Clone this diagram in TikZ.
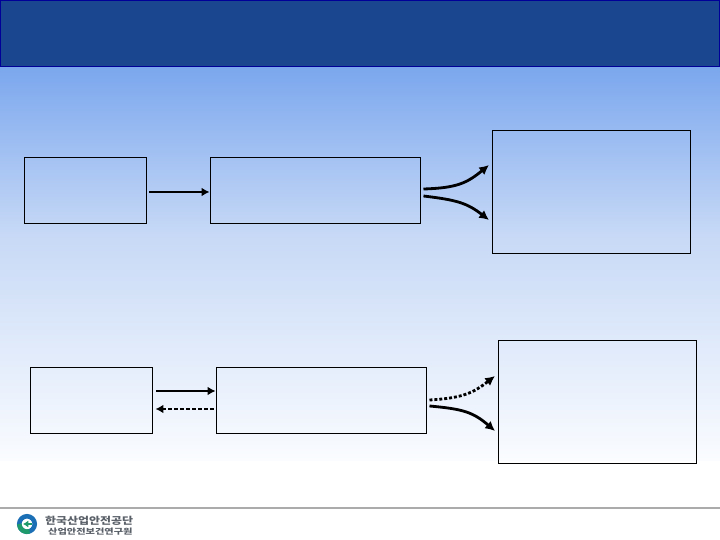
\documentclass[tikz,border=0pt]{standalone}
\usepackage{fontspec}
\newfontfamily\krfont{Noto Sans CJK KR}
\usetikzlibrary{arrows.meta, positioning, calc}
\definecolor{kheader}{HTML}{1A468F}
\definecolor{kheaderline}{HTML}{000099}
\definecolor{kskytop}{HTML}{7BA7EE}
\definecolor{kskymid}{HTML}{C7D9F6}
\definecolor{kskylow}{HTML}{FAFCFF}
\definecolor{kfoot}{HTML}{ABABAB}
\definecolor{kteal}{HTML}{1F9A6A}
\definecolor{klogoblue}{HTML}{1B6FB5}
\definecolor{klogotext}{HTML}{5A6068}
\tikzset{
  blankbox/.style={draw=black, line width=0.55pt, minimum width=#1*0.02cm, minimum height=66*0.02cm, inner sep=0pt},
  resultbox/.style={draw=black, line width=0.55pt, minimum width=198*0.02cm, minimum height=123*0.02cm, inner sep=0pt},
  flow/.style={-{Latex[length=4.5pt,width=5pt]}, line width=0.95pt, black},
  backflow/.style={flow, dash pattern=on 2pt off 1.4pt},
  curveflow/.style={-{Latex[length=5.5pt,width=5.5pt]}, line width=1.6pt, black},
  dotflow/.style={curveflow, dash pattern=on 1.7pt off 1.1pt},
}
\begin{document}
\begin{tikzpicture}[x=0.02cm, y=-0.02cm]
\useasboundingbox (0,0) rectangle (720,540);

%% Background
\fill[white] (0,0) rectangle (720,540);
\shade[top color=kskytop, bottom color=kskymid] (0,67) rectangle (720,235);
\shade[top color=kskymid, bottom color=kskylow] (0,234.5) rectangle (720,460);

%% Header band
\fill[kheader] (0,0) rectangle (720,67);
\draw[kheaderline, line width=0.6pt] (0.5,0.5) rectangle (719.5,66.5);

%% Upper row
\node[blankbox=122] (inputa) at (85,190) {};
\node[blankbox=210] (processa) at (315,190) {};
\node[resultbox] (resulta) at (591,191.5) {};
\coordinate (resultatop) at (489,165);
\coordinate (resultalow) at (489,220);

\draw[flow] ($(inputa.east)+(3,2)$) -- ($(processa.west)+(0,2)$);
\draw[curveflow] ($(processa.east)+(3,-1)$) .. controls (457,188) and (467,183) .. (resultatop);
\draw[curveflow] ($(processa.east)+(3,6)$) .. controls (457,200) and (467,203) .. (resultalow);

%% Lower row
\node[blankbox=122] (inputb) at (91,400) {};
\node[blankbox=210] (processb) at (321,400) {};
\node[resultbox] (resultb) at (597,401.5) {};
\coordinate (resultbtop) at (495,376);
\coordinate (resultblow) at (495,431);

\draw[flow] ($(inputb.east)+(4,-9)$) -- ($(processb.west)+(0,-9)$);
\draw[backflow] ($(processb.west)+(-2,9)$) -- ($(inputb.east)+(3,9)$);
\draw[dotflow] ($(processb.east)+(3,0)$) .. controls (463,398) and (473,393) .. (resultbtop);
\draw[curveflow] ($(processb.east)+(3,6)$) .. controls (463,409) and (473,412) .. (resultblow);

%% Footer
\draw[kfoot, line width=1.1pt] (0,508) -- (720,508);
\node[circle, draw=klogoblue, line width=2.6pt, minimum size=15.5*0.02cm, inner sep=0pt, outer sep=0pt] (logo) at (27,524) {};
\draw[kteal, line width=2.6pt] (logo.west) arc (180:70:7.75);
\draw[-{Latex[length=3pt,width=4pt]}, kteal, line width=1pt] (logo.center) ++(5,0) -- ++(-9,0);
\node[font=\krfont\bfseries, text=klogotext, xscale=0.68, yscale=0.56, anchor=west, inner sep=0pt] (logotop) at (45,520.5) {한국산업안전공단};
\node[font=\krfont\bfseries, text=klogotext, xscale=0.58, yscale=0.44, anchor=west, inner sep=0pt] (logolow) at (48,531.5) {산업안전보건연구원};

\end{tikzpicture}
\end{document}
